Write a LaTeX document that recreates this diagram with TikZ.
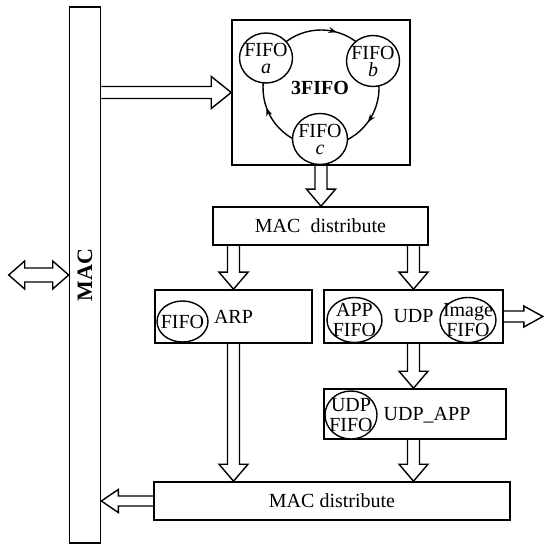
\documentclass[tikz,border=0pt]{standalone}
\usepackage{fontspec}
\setmainfont{Liberation Serif}
\usetikzlibrary{calc,positioning,shapes.geometric,decorations.markings,arrows.meta}

% sizes of the hollow block arrows (half shaft, half head, head length)
\tikzset{
  fat shaft/.store in=\fashaft, fat head/.store in=\fahead, fat len/.store in=\falen,
  fat shaft=3pt, fat head=7.25pt, fat len=8.5pt
}

\newcommand{\fatarrow}[3][]{%
  \begin{scope}[#1]
    \coordinate (fa-s) at #2;
    \coordinate (fa-e) at #3;
    \coordinate (fa-h) at ($(fa-e)!\falen!(fa-s)$);
    \draw[fatline] ($(fa-s)!\fashaft!90:(fa-e)$) -- ($(fa-h)!\fashaft!90:(fa-e)$)
      -- ($(fa-h)!\fahead!90:(fa-e)$) -- (fa-e) -- ($(fa-h)!\fahead!-90:(fa-e)$)
      -- ($(fa-h)!\fashaft!-90:(fa-e)$) -- ($(fa-s)!\fashaft!-90:(fa-e)$);
  \end{scope}}

\newcommand{\fatdoublearrow}[3][]{%
  \begin{scope}[#1]
    \coordinate (fa-s) at #2;
    \coordinate (fa-e) at #3;
    \coordinate (fa-h1) at ($(fa-s)!\falen!(fa-e)$);
    \coordinate (fa-h2) at ($(fa-e)!\falen!(fa-s)$);
    \draw[fatline] (fa-s) -- ($(fa-h1)!\fahead!90:(fa-e)$) -- ($(fa-h1)!\fashaft!90:(fa-e)$)
      -- ($(fa-h2)!\fashaft!90:(fa-e)$) -- ($(fa-h2)!\fahead!90:(fa-e)$) -- (fa-e)
      -- ($(fa-h2)!\fahead!-90:(fa-e)$) -- ($(fa-h2)!\fashaft!-90:(fa-e)$)
      -- ($(fa-h1)!\fashaft!-90:(fa-e)$) -- ($(fa-h1)!\fahead!-90:(fa-e)$) -- cycle;
  \end{scope}}

\begin{document}
\begin{tikzpicture}[
    x=0.5pt, y=-0.5pt,
    blk/.style={draw, rectangle, inner sep=0pt, line width=0.8pt, font=\fontsize{10}{12}\selectfont},
    fifo/.style={draw, ellipse, fill=white, inner sep=0pt, line width=0.7pt},
    fifotext/.style={align=center, inner sep=0pt, font=\fontsize{10}{10}\selectfont},
    fatline/.style={line width=0.7pt, line join=miter},
    ringline/.style={line width=0.7pt,
      decoration={markings,
        mark=at position 0.21 with {\arrow{Stealth[length=4pt,width=3pt]}},
        mark=at position 0.517 with {\arrow{Stealth[length=4pt,width=3pt]}},
        mark=at position 0.861 with {\arrow{Stealth[length=4pt,width=3pt]}}},
      postaction={decorate}}
  ]
    \useasboundingbox (0,0) rectangle (544,544);

    % MAC bus (rotated: north is its left side, south its right side)
    \node[blk, rotate=90, minimum width=268pt, minimum height=15.5pt,
      font=\fontsize{11}{12}\selectfont\bfseries] (mac) at (85,275) {MAC};
    \coordinate[left=30pt of mac.north] (ext);

    % 3FIFO ring
    \node[blk, minimum width=89pt, minimum height=72.5pt] (fifo3) at (321,92.5) {};
    \coordinate (ring) at (321,88);
    \draw[ringline] ($(ring)+(150:29pt)$) arc[start angle=150, end angle=-210, radius=29pt];
    \node[fifo, minimum width=26.5pt, minimum height=25pt,
      label={[fifotext, font=\fontsize{10}{8.5}\selectfont]center:FIFO\\\textit{a}}] (fa) at (266,58) {};
    \node[fifo, minimum width=26.5pt, minimum height=25.5pt,
      label={[fifotext, font=\fontsize{10}{8.5}\selectfont]center:FIFO\\\textit{b}}] (fb) at (373,61) {};
    \node[fifo, minimum width=27.5pt, minimum height=25.5pt,
      label={[fifotext, font=\fontsize{10}{8.5}\selectfont]center:FIFO\\\textit{c}}] (fc) at (320,139) {};
    \node[font=\fontsize{10}{12}\selectfont\bfseries] (title3) at (320,88) {3FIFO};

    % distribution and protocol blocks
    \node[blk, minimum width=107.5pt, minimum height=19pt] (dist1) at (320.5,226) {MAC\ \ distribute};
    \node[blk, minimum width=78.5pt, minimum height=26.5pt] (arp) at (233.5,316.5) {ARP};
    \node[fifo, minimum width=25.5pt, minimum height=20.5pt,
      label={[fifotext]center:FIFO}] (arpf) at (182.5,321.5) {};
    \node[blk, minimum width=89.5pt, minimum height=26.5pt] (udp) at (413.5,316.5) {UDP};
    \node[fifo, minimum width=27.5pt, minimum height=22.5pt,
      label={[fifotext]center:APP\\FIFO}] (appf) at (354.5,320) {};
    \node[fifo, minimum width=28pt, minimum height=22.5pt,
      label={[fifotext]center:Image\\FIFO}] (imgf) at (468,320) {};
    \coordinate[right=19.5pt of udp.east] (udpout);
    \node[blk, minimum width=91pt, minimum height=25pt] (udpapp) at (415,414) {};
    \node[fifo, minimum width=26pt, minimum height=24pt,
      label={[fifotext]center:UDP\\FIFO}] (udpf) at (351,415) {};
    \node[right=2.8pt of udpf.east, inner sep=0pt, font=\fontsize{10}{12}\selectfont] (udpapptext) {UDP\_APP};
    \node[blk, minimum width=178pt, minimum height=19pt] (dist2) at (332,501) {MAC distribute};

    % block arrows
    \fatdoublearrow[fat shaft=3.5pt, fat head=7pt, fat len=8pt]{(ext)}{(mac.north)}
    \fatarrow[fat head=8pt, fat len=10pt]{(mac.south |- fifo3.west)}{(fifo3.west)}
    \fatarrow{(fifo3.south)}{(fifo3.south |- dist1.north)}
    \fatarrow{(arp.north |- dist1.south)}{(arp.north)}
    \fatarrow{(udp.north |- dist1.south)}{(udp.north)}
    \fatarrow{(udp.south)}{(udp.south |- udpapp.north)}
    \fatarrow{(udp.south |- udpapp.south)}{(udp.south |- dist2.north)}
    \fatarrow{(arp.south)}{(arp.south |- dist2.north)}
    \fatarrow[fat shaft=2.75pt, fat head=5.25pt, fat len=9.5pt]{(udp.east)}{(udpout)}
    \fatarrow[fat shaft=2.5pt, fat head=5.75pt, fat len=8.5pt]{(dist2.west)}{(mac.south |- dist2.west)}
\end{tikzpicture}
\end{document}
